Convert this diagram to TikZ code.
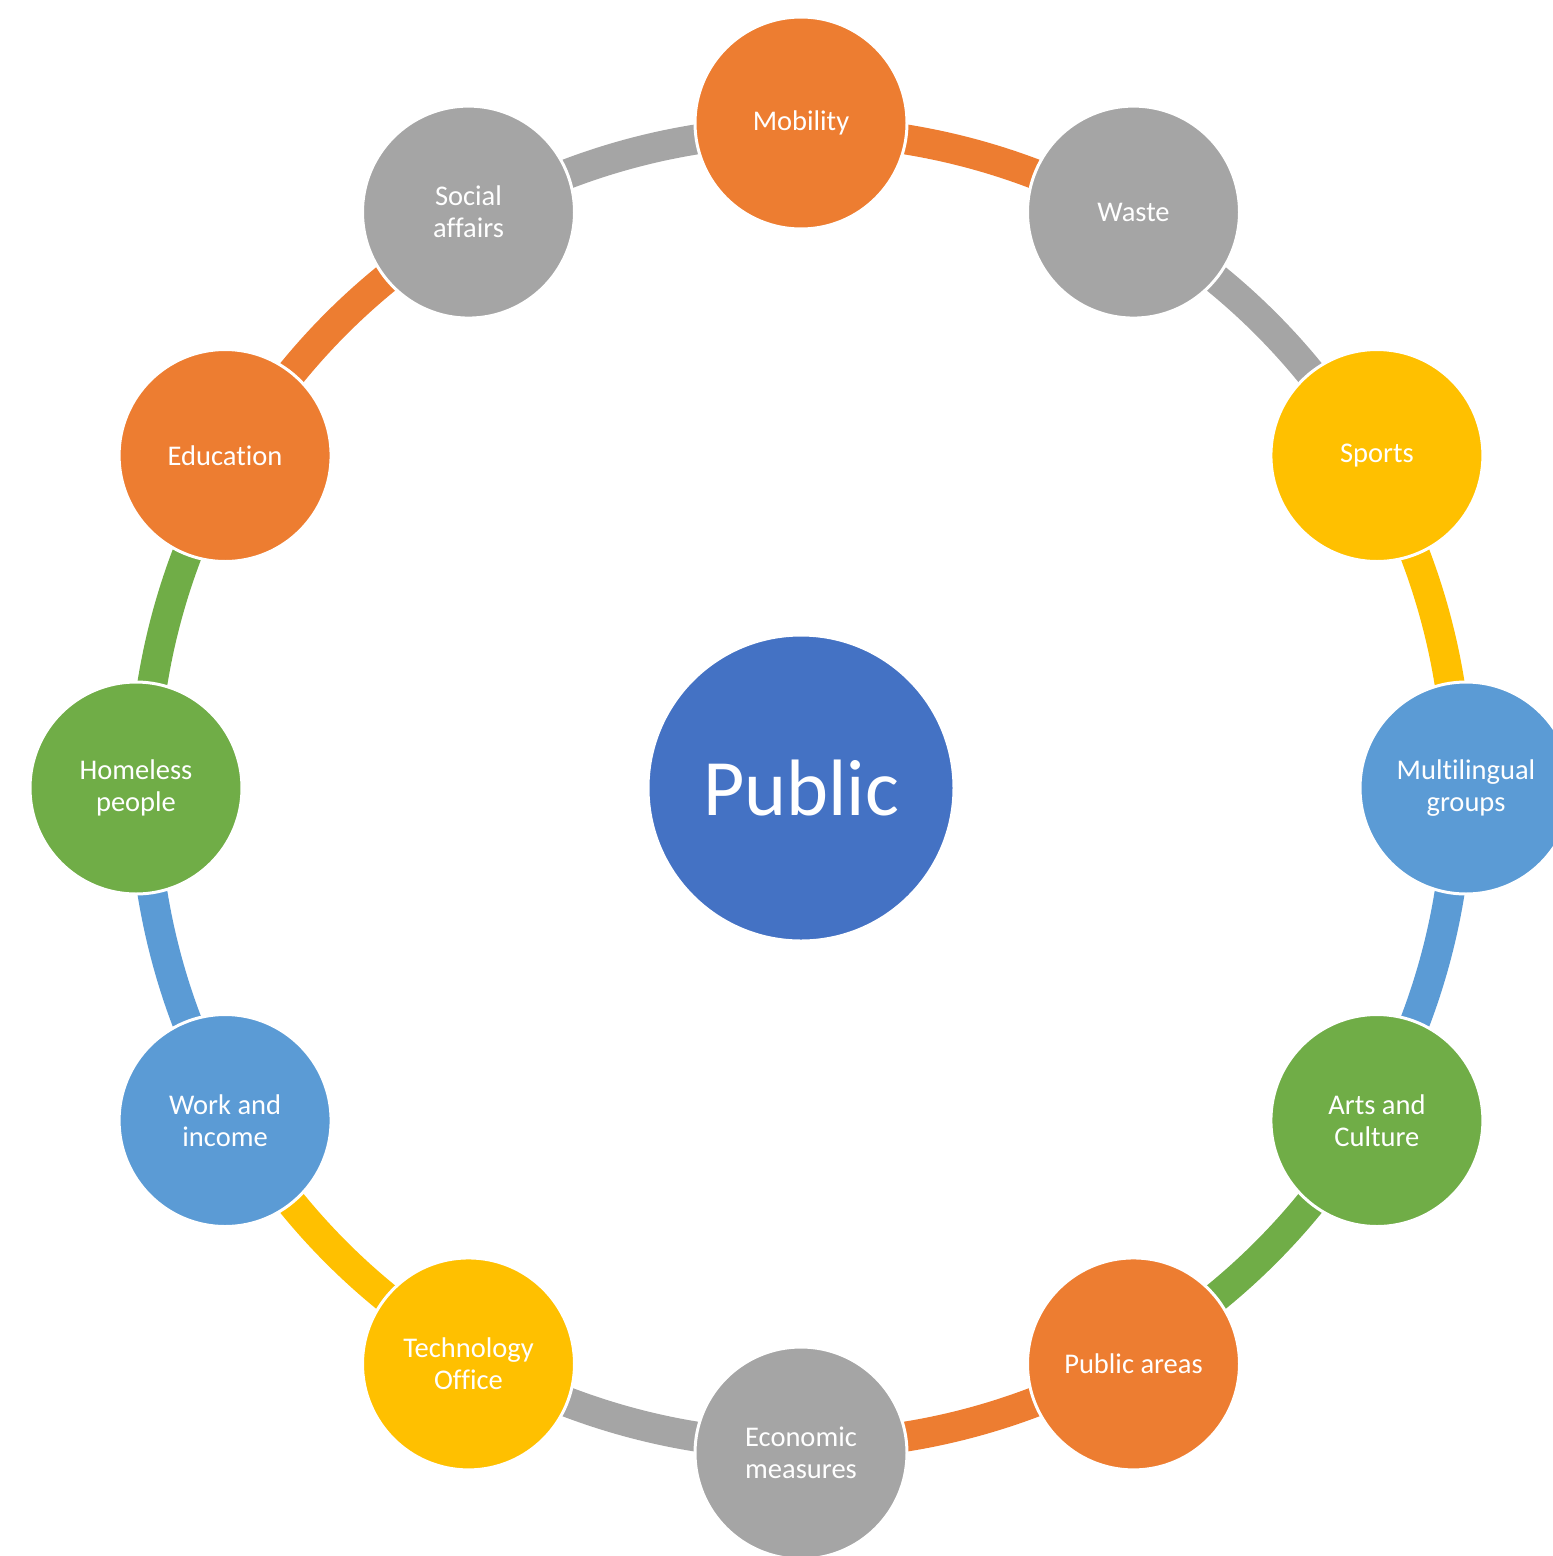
\documentclass[tikz,border=0pt]{standalone}
\usepackage{fontspec}
\setmainfont{Carlito}[Ligatures={NoCommon}]
\usetikzlibrary{calc}
\definecolor{cOrange}{HTML}{ED7D31}
\definecolor{cGrey}{HTML}{A5A5A5}
\definecolor{cYellow}{HTML}{FFC000}
\definecolor{cLBlue}{HTML}{5B9BD5}
\definecolor{cGreen}{HTML}{70AD47}
\definecolor{cBlue}{HTML}{4472C4}
\tikzset{
  x=1pt, y=1pt,
  ring/.style={line width=30pt},
  topic/.style={circle, draw=white, line width=3pt, minimum size=212pt, inner sep=0pt, outer sep=0pt,
    text=white, align=center, font=\fontsize{28.5}{32}\selectfont},
  hub/.style={circle, draw=white, line width=3pt, fill=cBlue, minimum size=306pt, inner sep=0pt,
    text=white, font=\fontsize{80}{90}\selectfont},
}
\begin{document}
\begin{tikzpicture}
\useasboundingbox (0,0) rectangle (1553,-1556);
\clip (0,0) rectangle (1553,-1556);
\coordinate (C) at (801,-788);
% ring arcs
\foreach \a/\col in {90/cOrange,60/cGrey,30/cYellow,0/cLBlue,-30/cGreen,-60/cOrange,-90/cGrey,-120/cYellow,-150/cLBlue,180/cGreen,150/cOrange,120/cGrey}{
  \draw[ring, draw=\col] ($(C)+(\a:657)$) arc[start angle=\a, end angle=\a-30, radius=657];
}
\node[hub] (P) at (C) {Public};
\node[topic, fill=cOrange] (mob) at ($(C)+(90:665)$) {Mobility};
\node[topic, fill=cGrey] (was) at ($(C)+(60:665)$) {Waste};
\node[topic, fill=cYellow] (spo) at ($(C)+(30:665)$) {Sports};
\node[topic, fill=cLBlue] (mul) at ($(C)+(0:665)$) {Multilingual\\groups};
\node[topic, fill=cGreen] (art) at ($(C)+(-30:665)$) {Arts and\\Culture};
\node[topic, fill=cOrange] (pua) at ($(C)+(-60:665)$) {Public areas};
\node[topic, fill=cGrey] (eco) at ($(C)+(-90:665)$) {Economic\\measures};
\node[topic, fill=cYellow] (tec) at ($(C)+(-120:665)$) {Technology\\Office};
\node[topic, fill=cLBlue] (wor) at ($(C)+(-150:665)$) {Work and\\income};
\node[topic, fill=cGreen] (hom) at ($(C)+(180:665)$) {Homeless\\people};
\node[topic, fill=cOrange] (edu) at ($(C)+(150:665)$) {Education};
\node[topic, fill=cGrey] (soc) at ($(C)+(120:665)$) {Social\\affairs};
\end{tikzpicture}
\end{document}
